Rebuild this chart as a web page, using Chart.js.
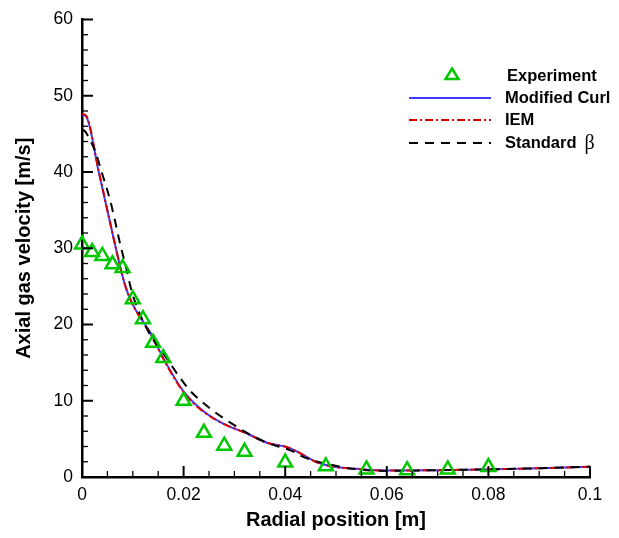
<!DOCTYPE html>
<html>
<head>
<meta charset="utf-8">
<script src="https://cdn.jsdelivr.net/npm/chart.js@4.4.1/dist/chart.umd.min.js"></script>
<style>
  html, body { margin: 0; padding: 0; background: #fff; }
  #wrap { width: 619px; height: 538px; }
</style>
</head>
<body>
<div id="wrap"><canvas id="myChart" width="619" height="538"></canvas></div>
<script>
// experiment points
var expX = [0, 0.002, 0.004, 0.006, 0.008, 0.010, 0.012, 0.014, 0.016, 0.020, 0.024, 0.028, 0.032, 0.040, 0.048, 0.056, 0.064, 0.072, 0.080];
var expY = [30.5, 29.5, 29.0, 27.9, 27.4, 23.3, 20.7, 17.6, 15.6, 10.0, 5.8, 4.1, 3.3, 1.9, 1.4, 1.0, 0.9, 1.0, 1.3];

// Modified Curl
var curlX = [0, 0.0008, 0.0033, 0.0068, 0.0078, 0.0088, 0.010, 0.0115, 0.0134, 0.016, 0.0199, 0.0238, 0.0278, 0.0325, 0.0364, 0.0404, 0.043, 0.046, 0.050, 0.0528, 0.056, 0.060, 0.070, 0.080, 0.090, 0.100];
var curlY = [47.5, 47.3, 40.0, 29.6, 26.8, 24.5, 22.6, 20.9, 19.0, 15.6, 11.3, 8.7, 7.0, 5.7, 4.5, 3.9, 3.1, 2.0, 1.3, 1.15, 0.95, 0.85, 0.9, 1.0, 1.15, 1.35];

// IEM
var iemX = [0, 0.0008, 0.0033, 0.0068, 0.0078, 0.0088, 0.010, 0.0115, 0.0134, 0.016, 0.0199, 0.0238, 0.0278, 0.0325, 0.0364, 0.0404, 0.043, 0.046, 0.050, 0.0528, 0.056, 0.060, 0.070, 0.080, 0.090, 0.100];
var iemY = [47.6, 47.4, 40.1, 29.6, 26.8, 24.5, 22.6, 20.8, 18.9, 15.5, 11.2, 8.6, 7.0, 5.7, 4.5, 3.9, 3.1, 2.0, 1.3, 1.15, 0.95, 0.85, 0.9, 1.0, 1.15, 1.35];

// Standard beta
var betaX = [0, 0.0005, 0.0015, 0.0026, 0.0041, 0.0055, 0.0065, 0.0075, 0.0087, 0.0098, 0.011, 0.0125, 0.014, 0.016, 0.0193, 0.0213, 0.0252, 0.0295, 0.033, 0.0364, 0.041, 0.044, 0.049, 0.052, 0.056, 0.060, 0.070, 0.080, 0.090, 0.100];
var betaY = [45.5, 45.4, 44.3, 42.7, 39.5, 36.4, 33.6, 30.6, 27.4, 24.3, 22.0, 19.8, 18.0, 16.2, 13.0, 11.3, 9.0, 7.0, 5.6, 4.5, 3.5, 2.5, 1.6, 1.2, 0.9, 0.8, 0.9, 1.0, 1.15, 1.35];

var xTicks = [0, 0.02, 0.04, 0.06, 0.08, 0.1];
var yTicks = [0, 10, 20, 30, 40, 50, 60];

function pts(xs, ys) {
  return xs.map(function (x, i) { return { x: x, y: ys[i] }; });
}

var GREEN = 'rgb(0,200,0)';
var BLUE = 'rgb(60,60,255)';
var RED = 'rgb(220,0,0)';
var FONT = '"Liberation Sans", Arial, sans-serif';

// inward major + minor ticks
var tickPlugin = {
  id: 'inTicks',
  afterDraw: function (chart) {
    var c = chart.ctx, xs = chart.scales.x, ys = chart.scales.y;
    var ca = chart.chartArea;
    c.save();
    c.strokeStyle = '#000';
    for (var i = 0; i <= 20; i++) {
      var px = xs.getPixelForValue(i * 0.005);
      var len = (i % 4 === 0) ? 11 : 6;
      c.lineWidth = (i % 4 === 0) ? 2 : 1.3;
      c.beginPath(); c.moveTo(px, ca.bottom); c.lineTo(px, ca.bottom - len); c.stroke();
    }
    for (var j = 0; j <= 30; j++) {
      var py = ys.getPixelForValue(j * 2);
      var leny = (j % 5 === 0) ? 11 : 6;
      c.lineWidth = (j % 5 === 0) ? 2 : 1.3;
      c.beginPath(); c.moveTo(ca.left, py); c.lineTo(ca.left + leny, py); c.stroke();
    }
    c.restore();
  }
};

// legend in the plot
var legendPlugin = {
  id: 'inLegend',
  afterDraw: function (chart) {
    var c = chart.ctx;
    c.save();
    c.font = 'bold 16.5px ' + FONT;
    c.textBaseline = 'middle';
    c.fillStyle = '#000';
    c.strokeStyle = GREEN; c.lineWidth = 2.5;
    c.beginPath(); c.moveTo(452, 68.5); c.lineTo(458.5, 79); c.lineTo(445.5, 79); c.closePath(); c.stroke();
    c.fillText('Experiment', 507, 76);
    var rows = [
      { y: 98, color: BLUE, dash: [], text: 'Modified Curl' },
      { y: 120, color: RED, dash: [8, 3, 2, 3], text: 'IEM' },
      { y: 143, color: '#000', dash: [9, 7], text: 'Standard' }
    ];
    rows.forEach(function (r) {
      c.strokeStyle = r.color; c.lineWidth = 2; c.setLineDash(r.dash);
      c.beginPath(); c.moveTo(409, r.y); c.lineTo(491, r.y); c.stroke();
      c.setLineDash([]);
      c.fillText(r.text, 505, r.y);
    });
    var w = c.measureText('Standard').width;
    c.font = '20px "Liberation Serif", "Times New Roman", serif';
    c.fillText('\u03b2', 505 + w + 8, 144);
    c.restore();
  }
};

const ctx = document.getElementById('myChart').getContext('2d');
const myChart = new Chart(ctx, {
  type: 'line',
  data: {
    datasets: [
      {
        label: 'Experiment',
        data: pts(expX, expY),
        showLine: false,
        pointStyle: 'triangle',
        pointRadius: 8,
        pointBorderWidth: 2.5,
        pointBorderColor: GREEN,
        pointBackgroundColor: 'rgba(0,0,0,0)',
        clip: false,
        order: 0
      },
      {
        label: 'Modified Curl',
        data: pts(curlX, curlY),
        borderColor: BLUE,
        borderWidth: 2,
        pointRadius: 0,
        cubicInterpolationMode: 'monotone',
        order: 3
      },
      {
        label: 'IEM',
        data: pts(iemX, iemY),
        borderColor: RED,
        borderWidth: 2,
        borderDash: [8, 3, 2, 3],
        pointRadius: 0,
        cubicInterpolationMode: 'monotone',
        order: 2
      },
      {
        label: 'Standard β',
        data: pts(betaX, betaY),
        borderColor: '#000',
        borderWidth: 2,
        borderDash: [9, 7],
        pointRadius: 0,
        cubicInterpolationMode: 'monotone',
        order: 1
      }
    ]
  },
  options: {
    responsive: false,
    animation: false,
    layout: { padding: { left: 0, top: 12, right: 29, bottom: 0 } },
    plugins: { legend: { display: false }, tooltip: { enabled: false } },
    scales: {
      x: {
        type: 'linear',
        min: 0, max: 0.1,
        grid: { display: false, drawTicks: false },
        border: { display: true, color: '#000', width: 2.5 },
        afterBuildTicks: function (s) { s.ticks = xTicks.map(function (v) { return { value: v }; }); },
        afterFit: function (s) { s.height = 61; },
        ticks: {
          color: '#000',
          padding: 8,
          maxRotation: 0,
          font: { family: FONT, size: 17.5 },
          callback: function (v) { return String(Number(v.toFixed(2))); }
        },
        title: {
          display: true,
          text: 'Radial position [m]',
          color: '#000',
          font: { family: FONT, size: 20, weight: 'bold' },
          padding: { top: 0, bottom: 6 }
        }
      },
      y: {
        min: 0, max: 60,
        grid: { display: false, drawTicks: false },
        border: { display: true, color: '#000', width: 2.5 },
        afterBuildTicks: function (s) { s.ticks = yTicks.map(function (v) { return { value: v }; }); },
        afterFit: function (s) { s.width = 82; },
        ticks: {
          color: '#000',
          padding: 9,
          font: { family: FONT, size: 17.5 }
        },
        title: {
          display: true,
          text: 'Axial gas velocity [m/s]',
          color: '#000',
          font: { family: FONT, size: 20, weight: 'bold' },
          padding: { top: 12, bottom: 0 }
        }
      }
    }
  },
  plugins: [tickPlugin, legendPlugin]
});
</script>
</body>
</html>
